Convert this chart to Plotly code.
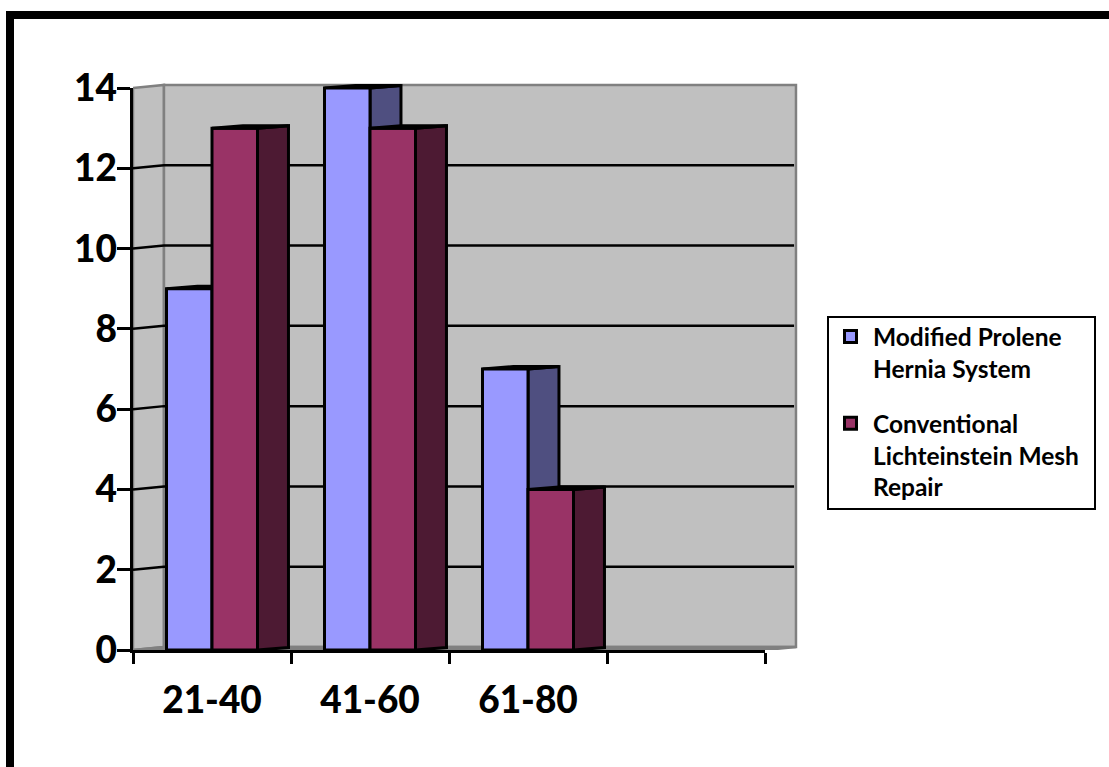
import plotly.graph_objects as go

# ---- data ----
categories = ["21-40", "41-60", "61-80"]
series_names = ["Modified Prolene<br>Hernia System", "Conventional<br>Lichteinstein Mesh<br>Repair"]
modified_prolene = [9, 14, 7]
lichtenstein = [13, 13, 4]
y_ticks = [0, 2, 4, 6, 8, 10, 12, 14]
x_ticks = [0, 1, 2, 3, 4]
centers = [0.5, 1.5, 2.5]

# ---- style ----
W, H = 1109, 767
DX, DY = 0.196, 0.075       # oblique depth of the walls and the columns, in axis units
DYB = 0.06
BAR = 0.288
FONT = "Lato"
BLUE, BLUE_D = "#9999FF", "#4F4F80"
MAROON, MAROON_D = "#993366", "#4D1A33"
WALL, EDGE = "#C0C0C0", "#808080"
LW = 3


def poly(xs, ys, fill, line="black", width=LW, xa="x", ya="y"):
    return go.Scatter(x=xs, y=ys, mode="lines", fill="toself", fillcolor=fill,
                      line=dict(color=line, width=width), hoverinfo="skip",
                      showlegend=False, xaxis=xa, yaxis=ya)


def side(xr, v, color, xa, ya):
    return poly([xr, xr + DX, xr + DX, xr, xr], [0, DYB, v + DYB, v, 0], color, xa=xa, ya=ya)


def top(xl, xr, v, xa, ya):
    return poly([xl, xr, xr + DX, xl + DX, xl], [v, v, v + DYB, v + DYB, v], "black", xa=xa, ya=ya)


fig = go.Figure()
ymax, xmax = y_ticks[-1], x_ticks[-1]

# walls and floor on the wide base axes
fig.add_trace(poly([0, DX, DX, 0, 0], [0, DY, ymax + DY, ymax, 0], WALL, EDGE, 2.5))
fig.add_trace(poly([DX, xmax + DX, xmax + DX, DX, DX], [DY, DY, ymax + DY, ymax + DY, DY], WALL, EDGE, 2.5))
fig.add_trace(poly([0, DX, xmax + DX, xmax, 0], [0, DY, DY, 0, 0], EDGE, EDGE, 2.5))

# gridlines
gx, gy = [], []
for v in y_ticks[1:-1]:
    gx += [0, DX, xmax + DX - 0.012, None]
    gy += [v, v + DY, v + DY, None]
fig.add_trace(go.Scatter(x=gx, y=gy, mode="lines", line=dict(color="black", width=2.5),
                         hoverinfo="skip", showlegend=False))

# blue column sides and tops sit behind the front faces
for c, v in zip(centers, modified_prolene):
    fig.add_trace(side(c, v, BLUE_D, "x", "y"))
    fig.add_trace(top(c - BAR, c, v, "x", "y"))

# front faces on the overlaid axes
for name, vals, col, grp in [(series_names[0], modified_prolene, BLUE, "a"),
                             (series_names[1], lichtenstein, MAROON, "b")]:
    fig.add_trace(go.Bar(x=centers, y=vals, name=name, marker=dict(color=col, line=dict(color="black", width=LW)),
                         legendgroup=grp, xaxis="x2", yaxis="y2", hoverinfo="skip"))

# maroon column sides and tops
for c, v in zip(centers, lichtenstein):
    fig.add_trace(side(c + BAR, v, MAROON_D, "x2", "y2"))
    fig.add_trace(top(c, c + BAR, v, "x2", "y2"))

# the ruled axes live on their own subplot, on top of everything
fig.add_trace(go.Scatter(x=[None], y=[None], mode="lines", showlegend=False, hoverinfo="skip",
                         xaxis="x3", yaxis="y3"))

PX_X, PX_Y = 158, 562 / ymax     # pixels per axis unit
X0, Y0 = 133, 650                # pixel position of the axis origin
XW, YT = 801, 82                 # right and top pixel of the wide data area
wide_x = [X0 / W, XW / W]
wide_y = [1 - Y0 / H, 1 - YT / H]
wide_xr = [0, (XW - X0) / PX_X]
wide_yr = [0, (Y0 - YT) / PX_Y]
hidden = dict(visible=False, showgrid=False, zeroline=False)

fig.update_layout(
    width=W, height=H, margin=dict(l=0, r=0, t=0, b=0, autoexpand=False),
    paper_bgcolor="white", plot_bgcolor="rgba(0,0,0,0)",
    barmode="group", bargap=1 - 2 * BAR, bargroupgap=0,
    font=dict(family=FONT, color="black"),
    xaxis=dict(domain=wide_x, range=wide_xr, anchor="y", **hidden),
    yaxis=dict(domain=wide_y, range=wide_yr, anchor="x", **hidden),
    xaxis2=dict(domain=wide_x, range=wide_xr, overlaying="x", anchor="y2", **hidden),
    yaxis2=dict(domain=wide_y, range=wide_yr, overlaying="y", anchor="x2", **hidden),
    xaxis3=dict(domain=[X0 / W, 765 / W], range=[0, xmax], anchor="y3", tickvals=centers, ticktext=categories,
                ticks="outside", ticklen=16, tickcolor="rgba(0,0,0,0)",
                tickfont=dict(family=FONT, size=37, color="black", weight=900),
                showgrid=False, zeroline=False, showline=True, linecolor="black", linewidth=2.5,
                minor=dict(tickvals=x_ticks, ticks="outside", ticklen=11, tickwidth=2.5, tickcolor="black")),
    yaxis3=dict(domain=[1 - Y0 / H, 1 - 88 / H], range=[0, ymax], anchor="x3", tickvals=y_ticks,
                ticks="outside", ticklen=13, tickwidth=2.5, tickcolor="black", ticklabelstandoff=-7,
                tickfont=dict(family=FONT, size=37, color="black", weight=900),
                showgrid=False, zeroline=False, showline=True, linecolor="black", linewidth=2.5),
    legend=dict(x=828 / W, y=1 - 314 / H, xanchor="left", yanchor="top",
                bgcolor="rgba(0,0,0,0)", borderwidth=0, valign="top",
                font=dict(family=FONT, size=24.5, color="black", weight="bold"),
                itemwidth=35, tracegroupgap=20, traceorder="grouped"),
    showlegend=True,
    shapes=[
        dict(type="rect", xref="paper", yref="paper", x0=6 / W, x1=14 / W, y0=0, y1=1 - 11 / H,
             fillcolor="black", line_width=0),
        dict(type="rect", xref="paper", yref="paper", x0=6 / W, x1=1, y0=1 - 19 / H, y1=1 - 11 / H,
             fillcolor="black", line_width=0),
        dict(type="rect", xref="paper", yref="paper", x0=828 / W, x1=1095 / W, y0=1 - 509 / H, y1=1 - 317 / H,
             fillcolor="white", line=dict(color="black", width=2)),
    ],
)

fig.write_html("out.html", config={"displayModeBar": False},
               post_script="document.body.style.margin='0';document.documentElement.style.overflow='hidden';")
